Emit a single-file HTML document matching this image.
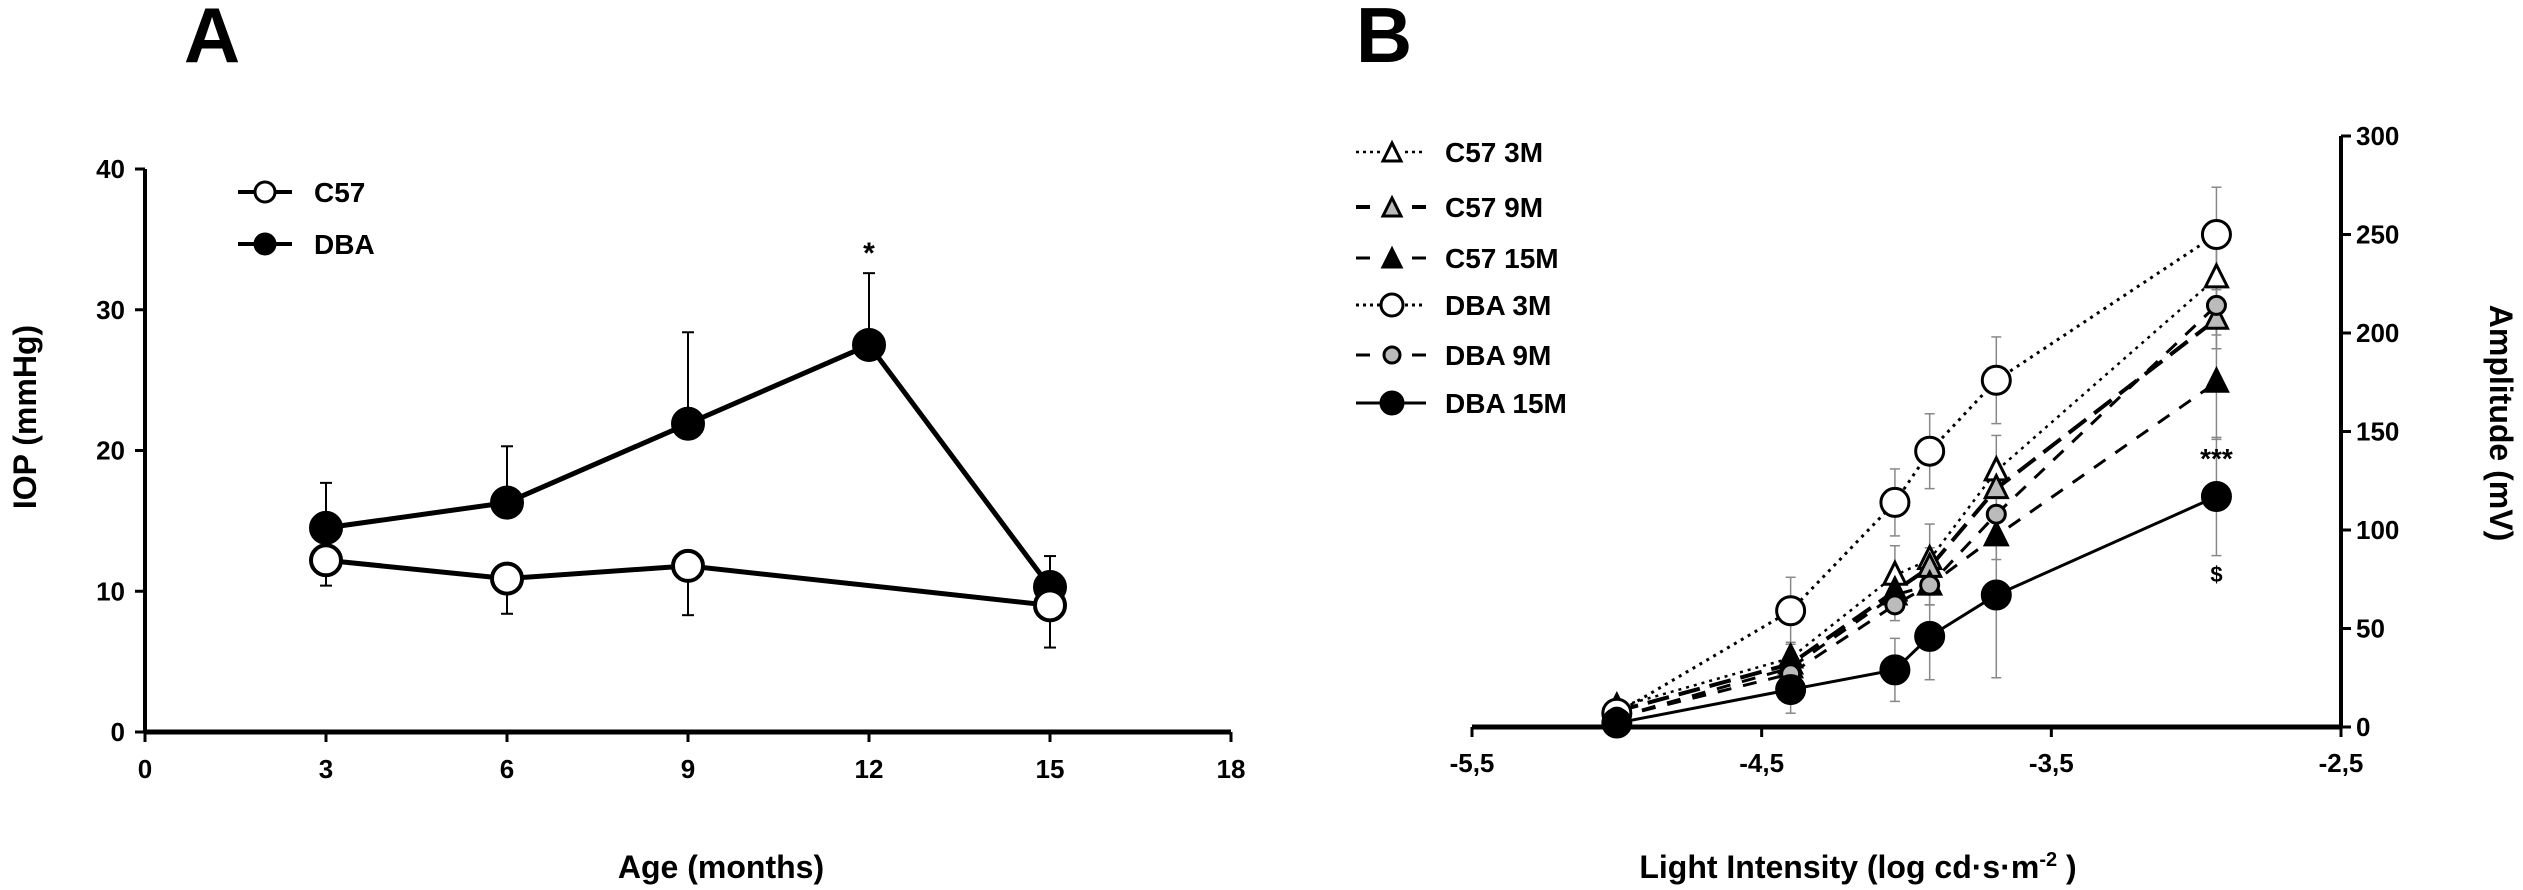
<!DOCTYPE html>
<html><head><meta charset="utf-8"><style>
html,body{margin:0;padding:0;background:#fff;}
svg{display:block;font-family:"Liberation Sans",Arial,sans-serif;font-weight:bold;}
</style></head><body>
<svg id="fig" width="2523" height="890" viewBox="0 0 2523 890">
<text x="212" y="62" font-size="78" text-anchor="middle">A</text>
<text x="1384" y="62" font-size="78" text-anchor="middle">B</text>
<g id="pa"></g>
<g id="pb"></g>
</svg>
<script>
// Panel A data
const ageTicks = [0,3,6,9,12,15,18];
const iopTicks = [0,10,20,30,40];
const c57Ages = [3,6,9,15];
const c57Iop = [12.2,10.9,11.8,9.0];
const c57Err = [1.8,2.5,3.5,3.0];
const dbaAges = [3,6,9,12,15];
const dbaIop = [14.5,16.3,21.9,27.5,10.3];
const dbaErr = [3.2,4.0,6.5,5.1,2.2];
// Panel B data
const lightTicks = [-5.5,-4.5,-3.5,-2.5];
const lightTickLabels = ["-5,5","-4,5","-3,5","-2,5"];
const ampTicks = [0,50,100,150,200,250,300];
const intensities = [-5.0,-4.4,-4.04,-3.92,-3.69,-2.93];
const c57_3M = [10,35,77,85,130,228];
const c57_9M = [8,32,69,81,121,207];
const c57_15M = [5,30,67,72,97,175];
const dba_3M = [7,59,114,140,176,250];
const dba_9M = [5,27,62,72,108,214];
const dba_15M = [2,19,29,46,67,117];
const c57_3M_err = [3,8,15,18,18,15];
const c57_9M_err = [3,6,8,10,12,15];
const c57_15M_err = [2,8,8,10,12,29];
const dba_3M_err = [3,17,17,19,22,24];
const dba_9M_err = [3,6,8,10,12,15];
const dba_15M_err = [2,12,16,22,42,30];

const NS="http://www.w3.org/2000/svg";
function mk(parent,tag,attrs,text){const e=document.createElementNS(NS,tag);for(const k in attrs)e.setAttribute(k,attrs[k]);if(text!==undefined)e.textContent=text;parent.appendChild(e);return e;}

// ---------- Panel A ----------
const A=document.getElementById('pa');
const ax=v=>145+v*(1231-145)/18;
const ay=v=>732-v*(732-169)/40;
let e;
e=mk(A,'line',{x1:145,y1:169,x2:145,y2:732,stroke:'#000','stroke-width':4});


e=mk(A,'line',{x1:145,y1:732,x2:1231,y2:732,stroke:'#000','stroke-width':5});


ageTicks.forEach(t=>{
  mk(A,'line',{x1:ax(t),y1:732,x2:ax(t),y2:742,stroke:'#000','stroke-width':3});
  e=mk(A,'text',{x:ax(t),y:778,'font-size':26,'text-anchor':'middle'},String(t));
  
  
});
iopTicks.forEach(t=>{
  mk(A,'line',{x1:135,y1:ay(t),x2:145,y2:ay(t),stroke:'#000','stroke-width':3});
  e=mk(A,'text',{x:125,y:ay(t)+9,'font-size':26,'text-anchor':'end'},String(t));
  
  
});
e=mk(A,'text',{x:721,y:878,'font-size':32,'text-anchor':'middle'},'Age (months)');


e=mk(A,'text',{x:0,y:0,'font-size':32,'text-anchor':'middle',transform:'translate(36,417) rotate(-90)'},'IOP (mmHg)');


function seriesA(xs,ys,errs,fill,name,errDir){
  const g=mk(A,'g',{});
  
  
  xs.forEach((x,i)=>{
    const y2=ay(ys[i]+errDir*errs[i]);
    mk(g,'line',{x1:ax(x),y1:ay(ys[i]),x2:ax(x),y2:y2,stroke:'#000','stroke-width':2});
    mk(g,'line',{x1:ax(x)-6,y1:y2,x2:ax(x)+6,y2:y2,stroke:'#000','stroke-width':2});
  });
  mk(g,'polyline',{points:xs.map((x,i)=>ax(x)+','+ay(ys[i])).join(' '),fill:'none',stroke:'#000','stroke-width':5});
  xs.forEach((x,i)=>{
    const c=mk(g,'circle',{cx:ax(x),cy:ay(ys[i]),r:15,fill:fill,stroke:'#000','stroke-width':4});
    
    
  });
}
seriesA(dbaAges,dbaIop,dbaErr,'#000','dba-series',1);
seriesA(c57Ages,c57Iop,c57Err,'#fff','c57-series',-1);
e=mk(A,'text',{x:ax(12),y:ay(34.3)+14,'font-size':30,'text-anchor':'middle'},'*');


// legend A
[['C57','#fff',192],['DBA','#000',244]].forEach(([lab,f,y])=>{
  const g=mk(A,'g',{});
  
  
  mk(g,'line',{x1:238,y1:y,x2:292,y2:y,stroke:'#000','stroke-width':4});
  mk(g,'circle',{cx:265,cy:y,r:10,fill:f,stroke:'#000','stroke-width':3});
  mk(g,'text',{x:314,y:y+10,'font-size':28},lab);
});

// ---------- Panel B ----------
const B=document.getElementById('pb');
const bx=v=>1472+(v+5.5)*(2341-1472)/3;
const by=v=>727-v*(727-136)/300;
e=mk(B,'line',{x1:1472,y1:727,x2:2341,y2:727,stroke:'#000','stroke-width':5});


e=mk(B,'line',{x1:2341,y1:136,x2:2341,y2:727,stroke:'#000','stroke-width':4});


lightTicks.forEach((t,i)=>{
  mk(B,'line',{x1:bx(t),y1:727,x2:bx(t),y2:737,stroke:'#000','stroke-width':3});
  e=mk(B,'text',{x:bx(t),y:772,'font-size':26,'text-anchor':'middle'},lightTickLabels[i]);
  
  
});
ampTicks.forEach(t=>{
  mk(B,'line',{x1:2341,y1:by(t),x2:2351,y2:by(t),stroke:'#000','stroke-width':3});
  e=mk(B,'text',{x:2356,y:by(t)+9,'font-size':26},String(t));
  
  
});
e=mk(B,'text',{x:1858,y:878,'font-size':32,'text-anchor':'middle'});
e.innerHTML='Light Intensity (log cd·s·m<tspan dy="-12" font-size="20">-2</tspan><tspan dy="12"> )</tspan>';


e=mk(B,'text',{x:0,y:0,'font-size':32,'text-anchor':'middle',transform:'translate(2490,423) rotate(90)'},'Amplitude (mV)');



const seriesB=[
 {name:'c57-3m',lab:'C57 3M',vals:c57_3M,err:c57_3M_err,dash:'3,5',sw:2.5,shape:'tri',fill:'#fff',r:11},
 {name:'c57-9m',lab:'C57 9M',vals:c57_9M,err:c57_9M_err,dash:'22,10',sw:4,shape:'tri',fill:'#bbb',r:11},
 {name:'c57-15m',lab:'C57 15M',vals:c57_15M,err:c57_15M_err,dash:'14,12',sw:3,shape:'tri',fill:'#000',r:11},
 {name:'dba-3m',lab:'DBA 3M',vals:dba_3M,err:dba_3M_err,dash:'3,5',sw:3,shape:'circ',fill:'#fff',r:14},
 {name:'dba-9m',lab:'DBA 9M',vals:dba_9M,err:dba_9M_err,dash:'14,12',sw:3,shape:'circ',fill:'#bbb',r:9},
 {name:'dba-15m',lab:'DBA 15M',vals:dba_15M,err:dba_15M_err,dash:'none',sw:3,shape:'circ',fill:'#000',r:14}
];
function marker(g,x,y,s){
  if(s.shape==='tri'){
    return mk(g,'polygon',{points:`${x},${y-s.r-2} ${x-s.r},${y+s.r-2} ${x+s.r},${y+s.r-2}`,fill:s.fill,stroke:'#000','stroke-width':3});
  }
  return mk(g,'circle',{cx:x,cy:y,r:s.r,fill:s.fill,stroke:'#000','stroke-width':3});
}
seriesB.forEach(s=>{
  const g=mk(B,'g',{});
  
  
  intensities.forEach((x,i)=>{
    const y1=by(s.vals[i]+s.err[i]),y2=by(Math.max(0,s.vals[i]-s.err[i]));
    mk(g,'line',{x1:bx(x),y1:y1,x2:bx(x),y2:y2,stroke:'#888','stroke-width':1.5});
    mk(g,'line',{x1:bx(x)-5,y1:y1,x2:bx(x)+5,y2:y1,stroke:'#888','stroke-width':1.5});
    mk(g,'line',{x1:bx(x)-5,y1:y2,x2:bx(x)+5,y2:y2,stroke:'#888','stroke-width':1.5});
  });
  mk(g,'polyline',{points:intensities.map((x,i)=>bx(x)+','+by(s.vals[i])).join(' '),fill:'none',stroke:'#000','stroke-width':s.sw,'stroke-dasharray':s.dash});
});
seriesB.forEach(s=>{
  intensities.forEach((x,i)=>{
    const m=marker(B,bx(x),by(s.vals[i]),s);
    
    
  });
});
e=mk(B,'text',{x:bx(-2.93),y:468,'font-size':28,'text-anchor':'middle'},'***');


e=mk(B,'text',{x:bx(-2.93),y:582,'font-size':22,'text-anchor':'middle'},'$');


// legend B
const legY=[152,207,258,305,355,403];
seriesB.forEach((s,i)=>{
  const g=mk(B,'g',{});
  
  
  const y=legY[i];
  mk(g,'line',{x1:1356,y1:y,x2:1426,y2:y,stroke:'#000','stroke-width':s.sw,'stroke-dasharray':s.dash==='none'?'none':(s.dash==='3,5'?'3,4':'14,14')});
  mk(g,'rect',{x:1381,y:y-14,width:22,height:28,fill:'#fff'});
  marker(g,1392,y+ (s.shape==='tri'?2:0),Object.assign({},s,{r:s.shape==='tri'?9:(s.r>10?11:8)}));
  mk(g,'text',{x:1445,y:y+10,'font-size':28},s.lab);
});
</script>
</body></html>
